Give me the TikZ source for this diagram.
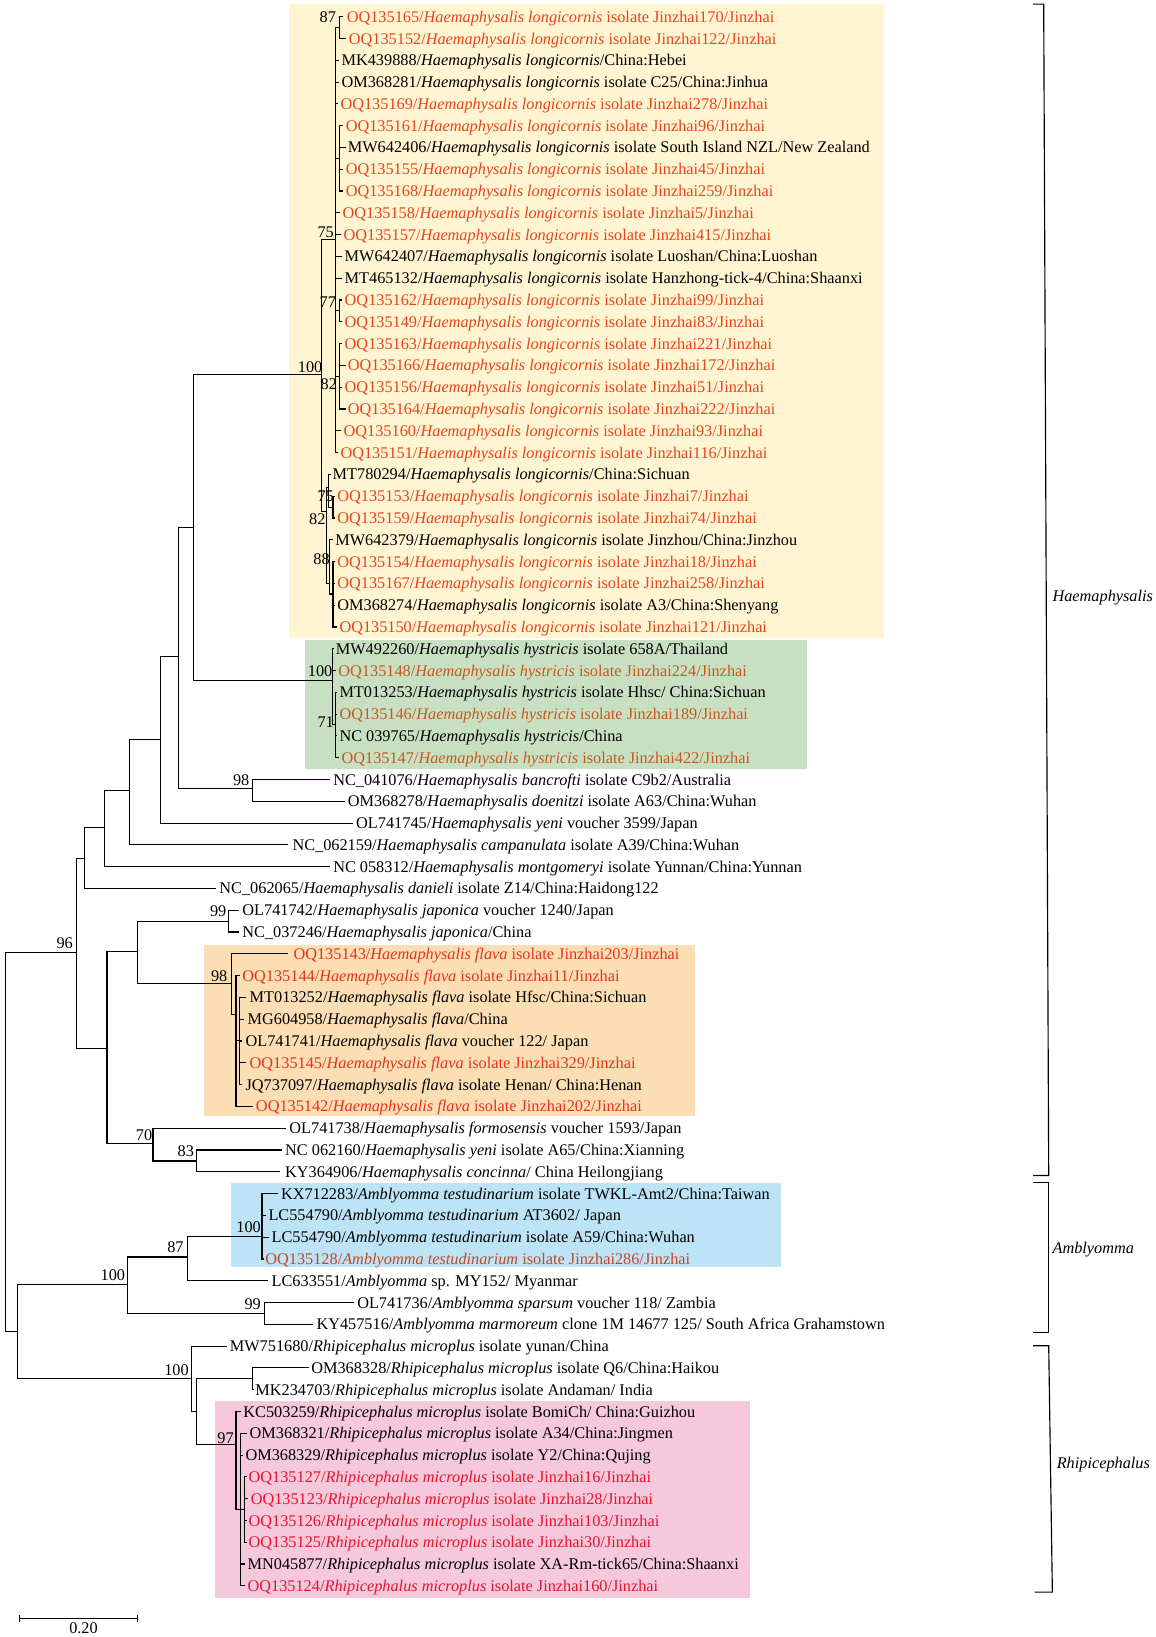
\documentclass[tikz,border=0pt]{standalone}
\usepackage{fontspec}
\setmainfont{Liberation Serif}
\definecolor{bxY}{RGB}{255,245,210}
\definecolor{bxG}{RGB}{200,224,194}
\definecolor{bxO}{RGB}{251,222,180}
\definecolor{bxB}{RGB}{188,227,246}
\definecolor{bxP}{RGB}{245,200,220}
\definecolor{tL}{RGB}{232,68,28}
\definecolor{tH}{RGB}{200,88,30}
\definecolor{tF}{RGB}{232,50,30}
\definecolor{tA}{RGB}{196,72,40}
\definecolor{tR}{RGB}{230,20,44}
\newcommand\rowy[1]{16+20.875*#1}
\newcommand\hlo{\textit{Haemaphysalis longicornis}}
\newcommand\hhy{\textit{Haemaphysalis hystricis}}
\newcommand\hfl{\textit{Haemaphysalis flava}}
\newcommand\amt{\textit{Amblyomma testudinarium}}
\newcommand\rmi{\textit{Rhipicephalus microplus}}
\newcommand\leaf[7]{%
  \coordinate (#1t) at (#4,{\rowy{#3}});
  \node[leaf,text=#6] (#1) at (#5,{\rowy{#3}+5.3}) {#7};
  \draw[br] (#2) |- (#1t);
}
\begin{document}
\begin{tikzpicture}[x=1pt,y=-1pt,
  br/.style={line width=1.1pt, draw=black},
  leaf/.style={anchor=base west, inner sep=0pt, font=\fontsize{15.6}{18}\selectfont},
  bslab/.style={anchor=east, inner sep=0pt, font=\fontsize{15.6}{18}\selectfont},
  clade/.style={anchor=west, inner sep=0pt, font=\fontsize{15.6}{18}\selectfont\itshape},
  brk/.style={line width=1.1pt, draw=black}]
\useasboundingbox (0,0) rectangle (1107,1568);
% coloured boxes
\fill[bxY] (277,4) rectangle (847,611);
\fill[bxG] (292,613) rectangle (773,737);
\fill[bxO] (195,905) rectangle (666,1069);
\fill[bxB] (221,1133) rectangle (748,1214);
\fill[bxP] (206,1342) rectangle (718,1531);
% internal nodes
\coordinate (root) at (5,1093);
\coordinate (X7) at (73,912);
\coordinate (X6) at (81,822);
\coordinate (X5) at (100,793);
\coordinate (X4) at (124,757);
\coordinate (X3) at (154,708);
\coordinate (X2) at (171,629);
\coordinate (X1) at (185,505);
\coordinate (L100) at (308,359);
\coordinate (A75) at (321.5,229);
\coordinate (n87) at (325,26.4);
\coordinate (Q1) at (325,151.7);
\coordinate (n77) at (325,297.8);
\coordinate (n82a) at (325,360.4);
\coordinate (B82) at (312.5,490);
\coordinate (n75b) at (315,467);
\coordinate (n75c) at (319,485.7);
\coordinate (n88) at (316,559);
\coordinate (n88b) at (319,569);
\coordinate (H100) at (318.5,651.8);
\coordinate (n71) at (321,694);
\coordinate (n98b) at (241.5,755);
\coordinate (X8) at (102.5,1004);
\coordinate (X9) at (132,911);
\coordinate (n99j) at (219,882.3);
\coordinate (n98f) at (222,942);
\coordinate (Y1) at (226,972);
\coordinate (Y2) at (229,997);
\coordinate (n70) at (146.5,1095);
\coordinate (n83) at (188,1112);
\coordinate (Z) at (16.7,1275);
\coordinate (A100) at (122,1230);
\coordinate (n87a) at (180,1204);
\coordinate (B100) at (251,1184);
\coordinate (n99a) at (253,1258);
\coordinate (R100) at (183.5,1320);
\coordinate (R2) at (188,1352);
\coordinate (R3) at (242,1320);
\coordinate (n97) at (226,1384);
\coordinate (S1) at (230.5,1446);
\coordinate (S2) at (234,1446);
% internal branches
\draw[br] (root) |- (X7);
\draw[br] (root) |- (Z);
\draw[br] (X7) |- (X6);
\draw[br] (X7) |- (X8);
\draw[br] (X6) |- (X5);
\draw[br] (X5) |- (X4);
\draw[br] (X4) |- (X3);
\draw[br] (X3) |- (X2);
\draw[br] (X2) |- (X1);
\draw[br] (X2) |- (n98b);
\draw[br] (X1) |- (L100);
\draw[br] (X1) |- (H100);
\draw[br] (L100) |- (A75);
\draw[br] (L100) |- (B82);
\draw[br] (A75) |- (n87);
\draw[br] (A75) |- (Q1);
\draw[br] (A75) |- (n77);
\draw[br] (A75) |- (n82a);
\draw[br] (B82) |- (n75b);
\draw[br] (B82) |- (n88);
\draw[br] (n75b) |- (n75c);
\draw[br] (n88) |- (n88b);
\draw[br] (H100) |- (n71);
\draw[br] (X8) |- (X9);
\draw[br] (X8) |- (n70);
\draw[br] (X9) |- (n99j);
\draw[br] (X9) |- (n98f);
\draw[br] (n98f) |- (Y1);
\draw[br] (Y1) |- (Y2);
\draw[br] (n70) |- (n83);
\draw[br] (Z) |- (A100);
\draw[br] (Z) |- (R100);
\draw[br] (A100) |- (n87a);
\draw[br] (A100) |- (n99a);
\draw[br] (n87a) |- (B100);
\draw[br] (R100) |- (R2);
\draw[br] (R2) |- (R3);
\draw[br] (R2) |- (n97);
\draw[br] (n97) |- (S1);
\draw[br] (S1) |- (S2);
% leaves
\leaf{l0}{n87}{0}{329}{332}{tL}{OQ135165/\hlo{} isolate Jinzhai170/Jinzhai}
\leaf{l1}{n87}{1}{331}{334}{tL}{OQ135152/\hlo{} isolate Jinzhai122/Jinzhai}
\leaf{l2}{A75}{2}{325}{327}{black}{MK439888/\hlo/China:Hebei}
\leaf{l3}{A75}{3}{325}{327}{black}{OM368281/\hlo{} isolate C25/China:Jinhua}
\leaf{l4}{A75}{4}{324}{326}{tL}{OQ135169/\hlo{} isolate Jinzhai278/Jinzhai}
\leaf{l5}{Q1}{5}{329}{331}{tL}{OQ135161/\hlo{} isolate Jinzhai96/Jinzhai}
\leaf{l6}{Q1}{6}{331}{333}{black}{MW642406/\hlo{} isolate South Island NZL/New Zealand}
\leaf{l7}{Q1}{7}{329}{331}{tL}{OQ135155/\hlo{} isolate Jinzhai45/Jinzhai}
\leaf{l8}{Q1}{8}{329}{331}{tL}{OQ135168/\hlo{} isolate Jinzhai259/Jinzhai}
\leaf{l9}{A75}{9}{326}{328}{tL}{OQ135158/\hlo{} isolate Jinzhai5/Jinzhai}
\leaf{l10}{A75}{10}{327}{329}{tL}{OQ135157/\hlo{} isolate Jinzhai415/Jinzhai}
\leaf{l11}{A75}{11}{328}{330}{black}{MW642407/\hlo{} isolate Luoshan/China:Luoshan}
\leaf{l12}{A75}{12}{328}{330}{black}{MT465132/\hlo{} isolate Hanzhong-tick-4/China:Shaanxi}
\leaf{l13}{n77}{13}{328}{330}{tL}{OQ135162/\hlo{} isolate Jinzhai99/Jinzhai}
\leaf{l14}{n77}{14}{328}{330}{tL}{OQ135149/\hlo{} isolate Jinzhai83/Jinzhai}
\leaf{l15}{n82a}{15}{328}{330}{tL}{OQ135163/\hlo{} isolate Jinzhai221/Jinzhai}
\leaf{l16}{n82a}{16}{331}{333}{tL}{OQ135166/\hlo{} isolate Jinzhai172/Jinzhai}
\leaf{l17}{n82a}{17}{328}{330}{tL}{OQ135156/\hlo{} isolate Jinzhai51/Jinzhai}
\leaf{l18}{n82a}{18}{331}{333}{tL}{OQ135164/\hlo{} isolate Jinzhai222/Jinzhai}
\leaf{l19}{A75}{19}{327}{329}{tL}{OQ135160/\hlo{} isolate Jinzhai93/Jinzhai}
\leaf{l20}{A75}{20}{324}{326}{tL}{OQ135151/\hlo{} isolate Jinzhai116/Jinzhai}
\leaf{l21}{n75b}{21}{317}{318.5}{black}{MT780294/\hlo/China:Sichuan}
\leaf{l22}{n75c}{22}{321}{323}{tL}{OQ135153/\hlo{} isolate Jinzhai7/Jinzhai}
\leaf{l23}{n75c}{23}{321}{323}{tL}{OQ135159/\hlo{} isolate Jinzhai74/Jinzhai}
\leaf{l24}{n88}{24}{319}{321}{black}{MW642379/\hlo{} isolate Jinzhou/China:Jinzhou}
\leaf{l25}{n88b}{25}{321}{323}{tL}{OQ135154/\hlo{} isolate Jinzhai18/Jinzhai}
\leaf{l26}{n88b}{26}{321}{323}{tL}{OQ135167/\hlo{} isolate Jinzhai258/Jinzhai}
\leaf{l27}{n88b}{27}{321}{323}{black}{OM368274/\hlo{} isolate A3/China:Shenyang}
\leaf{l28}{n88b}{28}{323}{325}{tL}{OQ135150/\hlo{} isolate Jinzhai121/Jinzhai}
\leaf{l29}{H100}{29}{320}{321.5}{black}{MW492260/\hhy{} isolate 658A/Thailand}
\leaf{l30}{H100}{30}{322}{324}{tH}{OQ135148/\hhy{} isolate Jinzhai224/Jinzhai}
\leaf{l31}{n71}{31}{323}{325}{black}{MT013253/\hhy{} isolate Hhsc/ China:Sichuan}
\leaf{l32}{n71}{32}{323}{325}{tH}{OQ135146/\hhy{} isolate Jinzhai189/Jinzhai}
\leaf{l33}{n71}{33}{323}{325}{black}{NC 039765/\hhy/China}
\leaf{l34}{n71}{34}{325}{327}{tH}{OQ135147/\hhy{} isolate Jinzhai422/Jinzhai}
\leaf{l35}{n98b}{35}{316}{319}{black}{NC\_041076/\textit{Haemaphysalis bancrofti} isolate C9b2/Australia}
\leaf{l36}{n98b}{36}{330}{333}{black}{OM368278/\textit{Haemaphysalis doenitzi} isolate A63/China:Wuhan}
\leaf{l37}{X3}{37}{338}{341}{black}{OL741745/\textit{Haemaphysalis yeni} voucher 3599/Japan}
\leaf{l38}{X4}{38}{276}{280}{black}{NC\_062159/\textit{Haemaphysalis campanulata} isolate A39/China:Wuhan}
\leaf{l39}{X5}{39}{316}{319}{black}{NC 058312/\textit{Haemaphysalis montgomeryi} isolate Yunnan/China:Yunnan}
\leaf{l40}{X6}{40}{207}{210}{black}{NC\_062065/\textit{Haemaphysalis danieli} isolate Z14/China:Haidong122}
\leaf{l41}{n99j}{41}{229}{232}{black}{OL741742/\textit{Haemaphysalis japonica} voucher 1240/Japan}
\leaf{l42}{n99j}{42}{229}{232}{black}{NC\_037246/\textit{Haemaphysalis japonica}/China}
\leaf{l43}{n98f}{43}{276}{281}{tF}{OQ135143/\hfl{} isolate Jinzhai203/Jinzhai}
\leaf{l44}{Y1}{44}{230}{232}{tF}{OQ135144/\hfl{} isolate Jinzhai11/Jinzhai}
\leaf{l45}{Y2}{45}{236}{239}{black}{MT013252/\hfl{} isolate Hfsc/China:Sichuan}
\leaf{l46}{Y2}{46}{234}{237}{black}{MG604958/\hfl/China}
\leaf{l47}{Y2}{47}{232}{235}{black}{OL741741/\hfl{} voucher 122/ Japan}
\leaf{l48}{Y2}{48}{236}{239}{tF}{OQ135145/\hfl{} isolate Jinzhai329/Jinzhai}
\leaf{l49}{Y2}{49}{232}{235}{black}{JQ737097/\hfl{} isolate Henan/ China:Henan}
\leaf{l50}{Y1}{50}{242}{245}{tF}{OQ135142/\hfl{} isolate Jinzhai202/Jinzhai}
\leaf{l51}{n70}{51}{274}{277}{black}{OL741738/\textit{Haemaphysalis formosensis} voucher 1593/Japan}
\leaf{l52}{n83}{52}{270}{273}{black}{NC 062160/\textit{Haemaphysalis yeni} isolate A65/China:Xianning}
\leaf{l53}{n83}{53}{268}{273}{black}{KY364906/\textit{Haemaphysalis concinna}/ China Heilongjiang}
\leaf{l54}{B100}{54}{266}{269}{black}{KX712283/\amt{} isolate TWKL-Amt2/China:Taiwan}
\leaf{l55}{B100}{55}{255}{257}{black}{LC554790/\amt{} AT3602/ Japan}
\leaf{l56}{B100}{56}{258}{260}{black}{LC554790/\amt{} isolate A59/China:Wuhan}
\leaf{l57}{B100}{57}{252.5}{254}{tA}{OQ135128/\amt{} isolate Jinzhai286/Jinzhai}
\leaf{l58}{n87a}{58}{257}{260}{black}{LC633551/\textit{Amblyomma} sp. MY152/ Myanmar}
\leaf{l59}{n99a}{59}{339}{342}{black}{OL741736/\textit{Amblyomma sparsum} voucher 118/ Zambia}
\leaf{l60}{n99a}{60}{300}{303}{black}{KY457516/\textit{Amblyomma marmoreum} clone 1M 14677 125/ South Africa Grahamstown}
\leaf{l61}{R100}{61}{217}{220}{black}{MW751680/\rmi{} isolate yunan/China}
\leaf{l62}{R3}{62}{296}{298}{black}{OM368328/\rmi{} isolate Q6/China:Haikou}
\leaf{l63}{R3}{63}{243.5}{244.5}{black}{MK234703/\rmi{} isolate Andaman/ India}
\leaf{l64}{n97}{64}{231}{233}{black}{KC503259/\rmi{} isolate BomiCh/ China:Guizhou}
\leaf{l65}{S1}{65}{237}{239}{black}{OM368321/\rmi{} isolate A34/China:Jingmen}
\leaf{l66}{S1}{66}{233}{235}{black}{OM368329/\rmi{} isolate Y2/China:Qujing}
\leaf{l67}{S2}{67}{236.5}{238}{tR}{OQ135127/\rmi{} isolate Jinzhai16/Jinzhai}
\leaf{l68}{S2}{68}{238}{240}{tR}{OQ135123/\rmi{} isolate Jinzhai28/Jinzhai}
\leaf{l69}{S2}{69}{236.5}{238}{tR}{OQ135126/\rmi{} isolate Jinzhai103/Jinzhai}
\leaf{l70}{S2}{70}{236.5}{238}{tR}{OQ135125/\rmi{} isolate Jinzhai30/Jinzhai}
\leaf{l71}{S1}{71}{235}{237}{black}{MN045877/\rmi{} isolate XA-Rm-tick65/China:Shaanxi}
\leaf{l72}{S1}{72}{235}{237}{tR}{OQ135124/\rmi{} isolate Jinzhai160/Jinzhai}
% bootstrap values
\node[bslab] (b1) at (322,16) {87};
\node[bslab] (b2) at (320,222) {75};
\node[bslab] (b3) at (322,289) {77};
\node[bslab] (b4) at (323,368) {82};
\node[bslab] (b5) at (309,352) {100};
\node[bslab] (b6) at (320,475) {75};
\node[bslab] (b7) at (312,497) {82};
\node[bslab] (b8) at (316,536) {88};
\node[bslab] (b9) at (318.5,643) {100};
\node[bslab] (b10) at (320,692) {71};
\node[bslab] (b11) at (239,747) {98};
\node[bslab] (b12) at (70,903) {96};
\node[bslab] (b13) at (217,873) {99};
\node[bslab] (b14) at (218,935) {98};
\node[bslab] (b15) at (146,1087) {70};
\node[bslab] (b16) at (186,1103) {83};
\node[bslab] (b17) at (120,1221) {100};
\node[bslab] (b18) at (176,1195) {87};
\node[bslab] (b19) at (250,1175) {100};
\node[bslab] (b20) at (250,1249) {99};
\node[bslab] (b21) at (181,1312) {100};
\node[bslab] (b22) at (224,1378) {97};
% clade brackets
\coordinate (ha1) at (989.5,4);
\coordinate (ha2) at (999.7,4);
\coordinate (ha3) at (1004.5,1126);
\coordinate (ha4) at (989.5,1126);
\draw[brk] (ha1) -- (ha2) -- (ha3) -- (ha4);
\node[clade] (hlab) at (1008,572) {Haemaphysalis};
\coordinate (am1) at (989.5,1133);
\coordinate (am2) at (1004.5,1133);
\coordinate (am3) at (1004.5,1276);
\coordinate (am4) at (989.5,1276);
\draw[brk] (am1) -- (am2) -- (am3) -- (am4);
\node[clade] (alab) at (1008,1197) {Amblyomma};
\coordinate (rh1) at (989.5,1289);
\coordinate (rh2) at (1004.5,1289);
\coordinate (rh3) at (1008,1525);
\coordinate (rh4) at (991,1525);
\draw[brk] (rh1) -- (rh2) -- (rh3) -- (rh4);
\node[clade] (rlab) at (1012,1403) {Rhipicephalus};
% scale bar
\coordinate (sb1) at (19,1550);
\coordinate (sb2) at (132,1550);
\draw[br] (sb1) -- (sb2);
\draw[br] ([yshift=-3.5pt]sb1) -- ([yshift=3.5pt]sb1);
\draw[br] ([yshift=-3.5pt]sb2) -- ([yshift=3.5pt]sb2);
\node[bslab, anchor=center] (sblab) at (80,1560) {0.20};
\end{tikzpicture}
\end{document}
